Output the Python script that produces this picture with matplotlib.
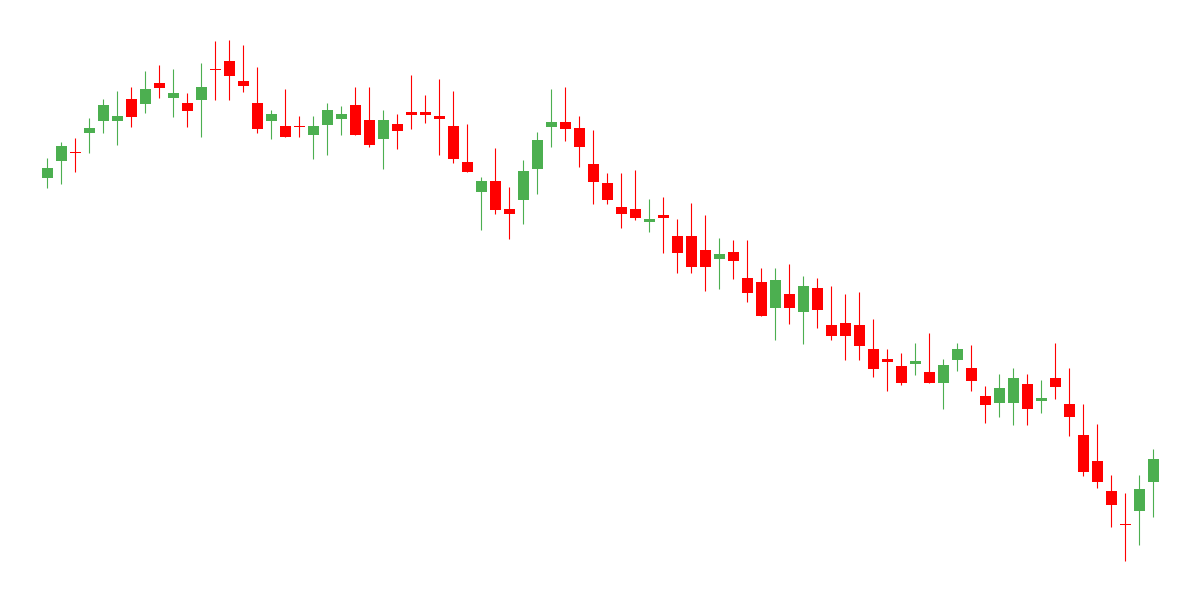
import matplotlib
matplotlib.use("Agg")
import matplotlib.pyplot as plt
import numpy as np

# OHLC values
opens = [422.3, 439.3, 448, 467.3, 479.3, 479.3, 501, 496.3, 517, 502.3,
         497, 500.3, 531, 539, 519, 497, 479.3, 474, 474, 465.3,
         475.3, 481.3, 495, 480, 461.3, 476, 488, 488, 484, 474,
         438, 408.3, 419, 391, 400.3, 431.3, 473.3, 478, 472, 436,
         417, 393, 391, 378.3, 385, 364, 364, 350, 341.3, 348,
         322, 318, 292.3, 306, 288.3, 312, 275, 277, 275, 251,
         241, 234, 236.3, 228, 217.3, 240.3, 232, 204, 197.3, 197.3,
         216, 199.3, 222, 196, 165, 139, 109, 76.5, 89.3, 118.3]
highs = [442, 458, 462, 482, 501, 509, 513, 529, 535, 531,
         507, 537, 559, 560, 555, 533, 490, 511, 484, 484,
         497, 494, 513, 513, 490, 486, 525, 505, 521, 509,
         476, 423, 452, 413, 440, 468, 511, 513, 484, 470,
         427, 427, 430, 401, 403, 381, 397, 385, 362, 360,
         360, 332, 332, 336, 324, 322, 314, 306, 308, 281,
         251, 247, 257, 267, 241, 257, 255, 214, 226, 232,
         226, 220, 257, 232, 196, 176, 125, 107, 125, 151]
lows = [412.3, 416.3, 428.3, 447.3, 467.3, 455.3, 473.3, 487.3, 502.3, 483.3,
        473.3, 463.3, 500.3, 500.3, 508.3, 467.3, 461.3, 463.3, 463.3, 441.3,
        445.3, 465.3, 465.3, 453.3, 431.3, 451.3, 471.3, 477.3, 445.3, 437.3,
        428.3, 370.3, 386.3, 361.3, 376.3, 406.3, 453.3, 459.3, 433.3, 396.3,
        396.3, 372.3, 380.3, 368.3, 347.3, 327.3, 327.3, 309.3, 311.3, 321.3,
        298.3, 284.3, 260.3, 276.3, 256.3, 272.3, 260.3, 240.3, 240.3, 223.3,
        209.3, 215.3, 225.3, 217.3, 191.3, 229.3, 209.3, 177.3, 183.3, 175.3,
        175.3, 187.3, 201.3, 164.3, 124.3, 112.3, 73.3, 39.3, 55.3, 83.3]
closes = [432, 454, 447.3, 472, 495, 484, 483.3, 511, 512.3, 507,
          489.3, 513, 530.3, 524.3, 514.3, 471.3, 486, 463.3, 473.3, 474,
          490, 486, 465.3, 455.3, 480, 469.3, 485.3, 485.3, 481.3, 441.3,
          428.3, 419, 390.3, 386.3, 429, 460, 478, 471.3, 453.3, 418.3,
          400.3, 386.3, 382.3, 381, 382.3, 347.3, 333.3, 333.3, 346, 339.3,
          307.3, 284.3, 320, 292.3, 314, 290.3, 264.3, 264.3, 254.3, 231.3,
          238.3, 217.3, 239, 217.3, 235, 251, 219.3, 195.3, 212, 222,
          191.3, 202, 213.3, 183.3, 128.3, 118.3, 95.3, 75.5, 111, 141]

UP_COLOR = "#4caf50"
DOWN_COLOR = "#ff0000"

o = np.array(opens)
h = np.array(highs)
l = np.array(lows)
c = np.array(closes)
x = np.arange(len(o))
colors = np.where(c >= o, UP_COLOR, DOWN_COLOR)

fig = plt.figure(figsize=(12, 6), dpi=100)
ax = fig.add_axes([0, 0, 1, 1])

ax.vlines(x, l, h, colors=colors, linewidth=0.8)
bottoms = np.minimum(o, c)
heights = np.maximum(np.abs(c - o), 1.0)
ax.bar(x, heights, bottom=bottoms, width=0.79, color=colors, linewidth=0)

ax.set_xlim(-47.3 / 14, (1200 - 47.3) / 14)
ax.set_ylim(0, 600)
ax.axis("off")

fig.savefig("out.png", dpi=100, facecolor="white")
